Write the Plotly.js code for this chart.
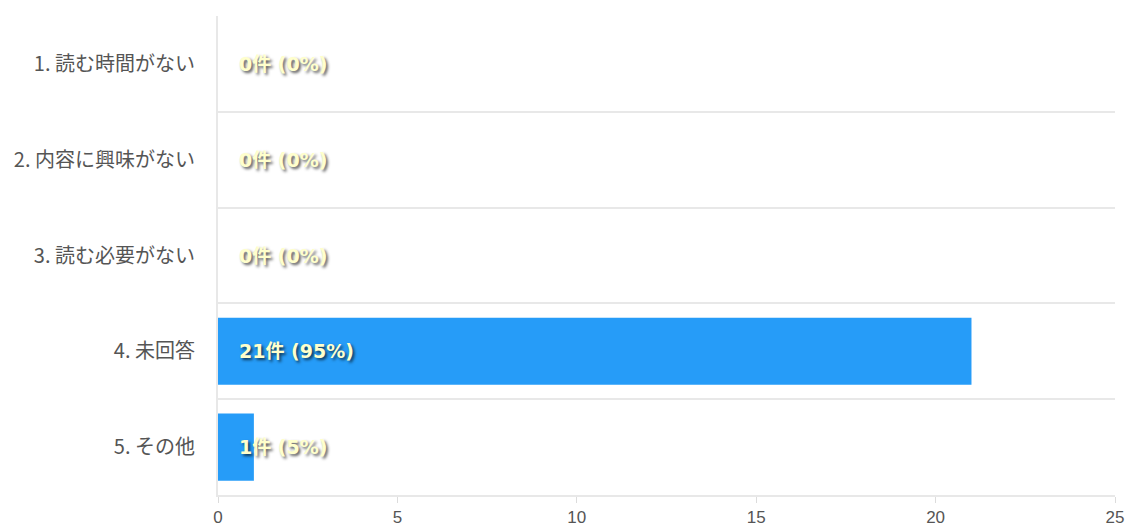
<!DOCTYPE html>
<html>
<head>
<meta charset="utf-8">
<script src="https://cdn.plot.ly/plotly-3.0.1.min.js"></script>
<style>html,body{margin:0;padding:0;background:#fff;}#chart{width:1129px;height:528px;}</style>
</head>
<body>
<div id="chart"></div>
<script>
const categories = ["1. 読む時間がない", "2. 内容に興味がない", "3. 読む必要がない", "4. 未回答", "5. その他"];
const counts = [0, 0, 0, 21, 1];
const percents = [0, 0, 0, 95, 5];
const xTicks = [0, 5, 10, 15, 20, 25];

const labels = counts.map((c, i) => c + "件 (" + percents[i] + "%)");

const trace = {
  type: "bar",
  orientation: "h",
  x: counts,
  y: categories,
  width: 0.7,
  marker: { color: "#269cf8" },
  hoverinfo: "none"
};

const annotations = categories.map((cat, i) => ({
  x: 0, y: cat, xref: "x", yref: "y",
  text: labels[i],
  showarrow: false,
  xanchor: "left",
  yanchor: "middle",
  xshift: 19,
  font: {
    family: "DejaVu Sans, Noto Sans CJK JP, sans-serif",
    size: 19,
    weight: "bold",
    color: "#ffffcc",
    shadow: "2px 2px 3px rgba(0,0,0,0.65)"
  }
}));

const layout = {
  width: 1129,
  height: 528,
  margin: { l: 218, r: 14, t: 16, b: 33 },
  paper_bgcolor: "#ffffff",
  plot_bgcolor: "#ffffff",
  showlegend: false,
  bargap: 0.3,
  xaxis: {
    range: [0, 25],
    tickvals: xTicks,
    ticks: "outside",
    ticklen: 6,
    tickwidth: 1,
    tickcolor: "#dcdcdc",
    showgrid: false,
    zeroline: false,
    showline: true,
    linecolor: "#e8e8e8",
    linewidth: 2,
    tickfont: { family: "Liberation Sans, Arial, sans-serif", size: 17, color: "#555555" },
    fixedrange: true
  },
  yaxis: {
    type: "category",
    autorange: "reversed",
    tickson: "boundaries",
    ticks: "",
    showgrid: true,
    gridcolor: "#e8e8e8",
    gridwidth: 2,
    showline: true,
    linecolor: "#e8e8e8",
    linewidth: 2,
    zeroline: false,
    ticklabelstandoff: 17,
    tickfont: { family: "Noto Sans CJK JP, sans-serif", size: 20, color: "#555555" },
    fixedrange: true
  },
  annotations: annotations,
  font: { family: "Noto Sans CJK JP, sans-serif" }
};

Plotly.newPlot("chart", [trace], layout, { displayModeBar: false, staticPlot: true });
</script>
</body>
</html>
